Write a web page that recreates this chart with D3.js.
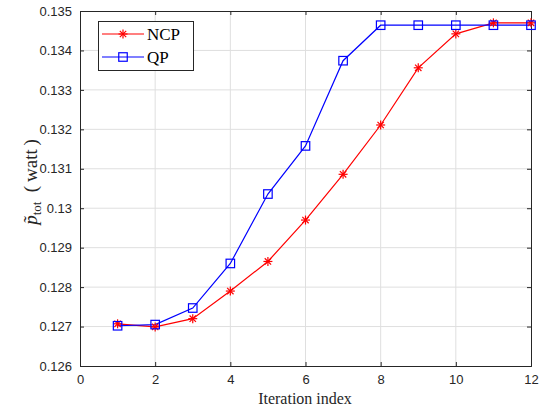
<!DOCTYPE html>
<html><head><meta charset="utf-8">
<script src="https://cdn.jsdelivr.net/npm/d3@7"></script>
<style>
html,body{margin:0;padding:0;background:#fff;}
svg{display:block;}
</style>
</head><body>
<svg id="c" width="554" height="411"></svg>
<script>
const iterations = [1,2,3,4,5,6,7,8,9,10,11,12];
const ncpValues = [0.12707,0.12699,0.12720,0.12790,0.12865,0.12970,0.13086,0.13211,0.13356,0.13442,0.13470,0.13470];
const qpValues  = [0.12702,0.12705,0.12747,0.12860,0.13036,0.13158,0.13374,0.13464,0.13464,0.13464,0.13464,0.13464];
const xTicks = [0,2,4,6,8,10,12];
const yTicks = [0.126,0.127,0.128,0.129,0.130,0.131,0.132,0.133,0.134,0.135];
const yTickLabels = ["0.126","0.127","0.128","0.129","0.13","0.131","0.132","0.133","0.134","0.135"];
const seriesNames = ["NCP","QP"];

const svg = d3.select("#c");
const L=80, R=531, T=11, B=366;
const x = d3.scaleLinear().domain([0,12]).range([L,R]);
const y = d3.scaleLinear().domain([0.126,0.135]).range([B,T]);
const axisCol = "#262626";

// grid
const g = svg.append("g");
g.selectAll(".gx").data(xTicks.slice(1,-1)).enter().append("line")
 .attr("x1",d=>x(d)).attr("x2",d=>x(d)).attr("y1",T).attr("y2",B)
 .attr("stroke","#dfdfdf").attr("stroke-width",1);
g.selectAll(".gy").data(yTicks.slice(1,-1)).enter().append("line")
 .attr("x1",L).attr("x2",R).attr("y1",d=>y(d)).attr("y2",d=>y(d))
 .attr("stroke","#dfdfdf").attr("stroke-width",1);

// axes
const xAxis = d3.axisBottom(x).tickValues(xTicks).tickSize(-4).tickPadding(9).tickFormat(d3.format("d"));
const yAxis = d3.axisLeft(y).tickValues(yTicks).tickSize(-4).tickPadding(8).tickFormat((d,i)=>yTickLabels[i]);
const xTop = d3.axisTop(x).tickValues(xTicks).tickSize(-4).tickFormat("");
const yRight = d3.axisRight(y).tickValues(yTicks).tickSize(-4).tickFormat("");
function style(sel){
  sel.select(".domain").attr("stroke",axisCol).attr("stroke-width",1);
  sel.selectAll(".tick line").attr("stroke",axisCol);
  sel.selectAll("text").attr("fill",axisCol).style("font-family","'Liberation Sans', Arial, sans-serif").style("font-size","13px");
}
svg.append("g").attr("transform",`translate(0,${B})`).call(xAxis).call(style);
svg.append("g").attr("transform",`translate(${L},0)`).call(yAxis).call(style);
svg.append("g").attr("transform",`translate(0,${T})`).call(xTop).call(style);
svg.append("g").attr("transform",`translate(${R},0)`).call(yRight).call(style);

// lines
const line = d3.line().x((d,i)=>x(iterations[i])).y(d=>y(d));
svg.append("path").datum(ncpValues).attr("d",line).attr("fill","none").attr("stroke","#ff0000").attr("stroke-width",1.2);
svg.append("path").datum(qpValues).attr("d",line).attr("fill","none").attr("stroke","#0000ff").attr("stroke-width",1.2);

function star(sel, cx, cy){
  const r=4.5;
  const gg = sel.append("g").attr("transform",`translate(${cx},${cy})`).attr("stroke","#ff0000").attr("stroke-width",1.2);
  [0,45,90,135].forEach(a=>{
    const rad=a*Math.PI/180;
    gg.append("line").attr("x1",-r*Math.cos(rad)).attr("y1",-r*Math.sin(rad)).attr("x2",r*Math.cos(rad)).attr("y2",r*Math.sin(rad));
  });
}
function square(sel, cx, cy){
  const s=8.5;
  sel.append("rect").attr("x",cx-s/2).attr("y",cy-s/2).attr("width",s).attr("height",s)
    .attr("fill","none").attr("stroke","#0000ff").attr("stroke-width",1.2);
}
const mk = svg.append("g");
ncpValues.forEach((v,i)=>star(mk, x(iterations[i]), y(v)));
qpValues.forEach((v,i)=>square(mk, x(iterations[i]), y(v)));

// legend
const lg = svg.append("g");
lg.append("rect").attr("x",98.5).attr("y",21.5).attr("width",95).attr("height",49).attr("fill","#fff").attr("stroke",axisCol).attr("stroke-width",1);
const ly=[34,57];
lg.append("line").attr("x1",102).attr("x2",144).attr("y1",ly[0]).attr("y2",ly[0]).attr("stroke","#ff0000").attr("stroke-width",1.2);
star(lg,123,ly[0]);
lg.append("line").attr("x1",102).attr("x2",144).attr("y1",ly[1]).attr("y2",ly[1]).attr("stroke","#0000ff").attr("stroke-width",1.2);
square(lg,123,ly[1]);
seriesNames.forEach((n,i)=>{
  lg.append("text").attr("x",147).attr("y",ly[i]+6).text(n)
   .style("font-family","'Liberation Serif','Times New Roman',serif").style("font-size","17px").attr("fill","#000");
});

// x label
svg.append("text").attr("x",305).attr("y",404).attr("text-anchor","middle").text("Iteration index")
 .style("font-family","'Liberation Serif','Times New Roman',serif").style("font-size","16px").attr("fill","#262626");

// y label
const yl = svg.append("text").attr("transform","translate(37,182) rotate(-90)").attr("text-anchor","middle")
 .style("font-family","'Liberation Serif','Times New Roman',serif").style("font-size","19px").attr("fill","#262626");
yl.append("tspan").style("font-style","italic").text("p\u0303");
yl.append("tspan").attr("dy",4).style("font-size","13px").text("tot");
yl.append("tspan").attr("dy",-4).attr("xml:space","preserve").text("\u2002(\u2009watt\u2009)");
</script>
</body></html>
